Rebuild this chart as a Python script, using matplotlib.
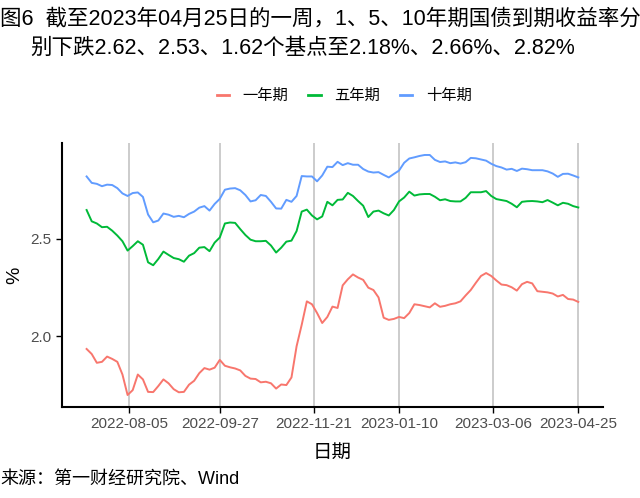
import matplotlib
matplotlib.use("Agg")
import matplotlib.pyplot as plt
import matplotlib.dates as mdates
import pandas as pd

plt.rcParams['font.family'] = ['Liberation Sans', 'Noto Sans CJK SC', 'DejaVu Sans']

# 3-day sampling of the daily series, 2022-07-11 .. 2023-04-25
dates = pd.date_range('2022-07-11', '2023-04-25', freq='3D')

y1 = [1.936, 1.910, 1.865, 1.870, 1.897, 1.885, 1.870, 1.805, 1.700, 1.725,
      1.805, 1.780, 1.716, 1.715, 1.746, 1.780, 1.760, 1.730, 1.714, 1.716,
      1.753, 1.773, 1.812, 1.838, 1.830, 1.840, 1.880, 1.850, 1.842, 1.836,
      1.826, 1.798, 1.784, 1.782, 1.765, 1.768, 1.760, 1.733, 1.754, 1.751,
      1.790, 1.950, 2.060, 2.180, 2.165, 2.120, 2.069, 2.100, 2.153, 2.146,
      2.262, 2.293, 2.318, 2.302, 2.290, 2.250, 2.238, 2.200, 2.096, 2.085,
      2.090, 2.100, 2.094, 2.120, 2.165, 2.161, 2.155, 2.149, 2.170, 2.152,
      2.157, 2.165, 2.170, 2.180, 2.210, 2.238, 2.275, 2.310, 2.325, 2.310,
      2.287, 2.266, 2.263, 2.252, 2.235, 2.268, 2.280, 2.272, 2.232, 2.229,
      2.226, 2.220, 2.205, 2.213, 2.192, 2.189, 2.177]

y5 = [2.648, 2.590, 2.579, 2.560, 2.562, 2.542, 2.517, 2.488, 2.440, 2.463,
      2.488, 2.470, 2.380, 2.365, 2.397, 2.435, 2.418, 2.402, 2.396, 2.383,
      2.414, 2.427, 2.455, 2.458, 2.437, 2.481, 2.507, 2.579, 2.584, 2.582,
      2.550, 2.520, 2.496, 2.488, 2.488, 2.490, 2.466, 2.430, 2.455, 2.486,
      2.491, 2.540, 2.640, 2.650, 2.620, 2.600, 2.615, 2.690, 2.672, 2.700,
      2.702, 2.736, 2.720, 2.694, 2.670, 2.612, 2.640, 2.645, 2.631, 2.620,
      2.648, 2.692, 2.712, 2.742, 2.722, 2.728, 2.730, 2.730, 2.716, 2.698,
      2.703, 2.694, 2.692, 2.692, 2.710, 2.739, 2.739, 2.739, 2.745, 2.720,
      2.704, 2.699, 2.694, 2.680, 2.662, 2.690, 2.693, 2.694, 2.692, 2.688,
      2.699, 2.686, 2.672, 2.685, 2.680, 2.668, 2.661]

y10 = [2.820, 2.787, 2.782, 2.770, 2.778, 2.776, 2.760, 2.733, 2.720, 2.735,
       2.738, 2.715, 2.625, 2.585, 2.594, 2.630, 2.624, 2.613, 2.618, 2.611,
       2.628, 2.640, 2.660, 2.668, 2.645, 2.679, 2.705, 2.752, 2.758, 2.760,
       2.749, 2.725, 2.692, 2.698, 2.725, 2.720, 2.690, 2.656, 2.655, 2.700,
       2.690, 2.720, 2.822, 2.820, 2.820, 2.795, 2.825, 2.870, 2.868, 2.895,
       2.878, 2.888, 2.880, 2.880, 2.858, 2.845, 2.840, 2.842, 2.828, 2.815,
       2.833, 2.850, 2.890, 2.912, 2.918, 2.925, 2.930, 2.930, 2.905, 2.894,
       2.897, 2.888, 2.892, 2.886, 2.893, 2.915, 2.913, 2.907, 2.901, 2.885,
       2.873, 2.866, 2.855, 2.859, 2.848, 2.860, 2.857, 2.852, 2.852, 2.852,
       2.846, 2.835, 2.818, 2.833, 2.834, 2.825, 2.815]

series_names = ['一年期', '五年期', '十年期']
colors = ['#F8766D', '#00BA38', '#619CFF']
tick_dates = ['2022-08-05', '2022-09-27', '2022-11-21', '2023-01-10', '2023-03-06', '2023-04-25']
y_ticks = [2.0, 2.5]

fig = plt.figure(figsize=(6.4, 4.98), dpi=100)
ax = fig.add_axes([0.0969, 0.1827, 0.8451, 0.5302])

for vals, name, c in zip([y1, y5, y10], series_names, colors):
    ax.plot(dates, vals, color=c, lw=1.4, label=name)

# ggplot-style 5% expansion
span = dates[-1] - dates[0]
ax.set_xlim(dates[0] - span * 0.05, dates[-1] + span * 0.05)
all_vals = y1 + y5 + y10
lo, hi = min(all_vals), max(all_vals)
ax.set_ylim(lo - (hi - lo) * 0.05, hi + (hi - lo) * 0.05)

ax.set_xticks(pd.to_datetime(tick_dates))
ax.xaxis.set_major_formatter(mdates.DateFormatter('%Y-%m-%d'))
ax.set_yticks(y_ticks)
ax.set_yticklabels([f'{v:.1f}' for v in y_ticks])
ax.tick_params(axis='both', labelsize=11, colors='#4D4D4D', length=4, width=1)
ax.tick_params(axis='both', color='black')
ax.grid(axis='x', color='#BEBEBE', lw=1.1)
ax.set_axisbelow(True)
for s in ['top', 'right']:
    ax.spines[s].set_visible(False)
for s in ['left', 'bottom']:
    ax.spines[s].set_linewidth(1.5)

ax.set_xlabel('日期', fontsize=14, labelpad=10)
ax.set_ylabel('%', fontsize=14, labelpad=5)

fig.text(0.0, 1 - 19 / 498, '图6  截至2023年04月25日的一周，1、5、10年期国债到期收益率分',
         fontsize=15.5, ha='left', va='center')
fig.text(30 / 640, 1 - 48 / 498, '别下跌2.62、2.53、1.62个基点至2.18%、2.66%、2.82%',
         fontsize=15.5, ha='left', va='center')

leg = fig.legend(loc='center', bbox_to_anchor=(0.538, 1 - 96 / 498), ncol=3, frameon=False,
                 fontsize=11, handlelength=0.8, handletextpad=0.9, columnspacing=1.3)
for h in leg.get_lines():
    h.set_linewidth(2)

fig.text(0.0, 1 - 479 / 498, '来源：第一财经研究院、Wind', fontsize=13, ha='left', va='center')

fig.savefig('out.png', dpi=100)
